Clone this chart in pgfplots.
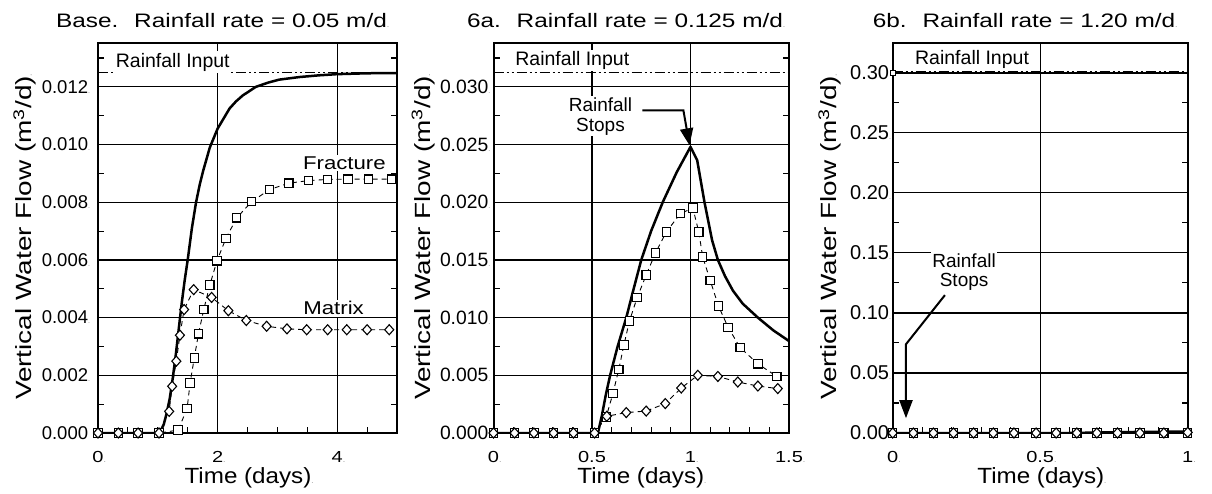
\documentclass[border=0pt]{standalone}
\usepackage{pgfplots}
\pgfplotsset{compat=1.18}
\usepackage{fontspec}
\setmainfont{Liberation Sans}
\newfontfamily\wideT[FakeStretch=1.25]{Liberation Sans}
\newfontfamily\wideX[FakeStretch=1.25]{Liberation Sans}
\newfontfamily\wideL[FakeStretch=1.1]{Liberation Sans}
\newfontfamily\wideY[FakeStretch=1.27]{Liberation Sans}
\newfontfamily\wideA[FakeStretch=1.2]{Liberation Sans}
\usetikzlibrary{arrows.meta}
\newcommand\td{\rlap{\textcolor{black!50}{\fontsize{7}{7}\selectfont .}}}

\pgfplotsset{
  panel/.style={scale only axis, height=390pt, anchor=south west, ymin=0, xmin=0,
    axis line style={line width=2pt},
    grid=major, major grid style={black, line width=1.3pt},
    tick align=inside, xtick pos=left, ytick pos=both, yticklabel pos=left,
    major tick length=0pt, minor tick length=6pt,
    minor tick style={black, line width=1.1pt},
    scaled y ticks=false, scaled x ticks=false,
    xticklabel style={font=\wideX\fontsize{16}{18}\selectfont, inner sep=0pt, anchor=north, yshift=-18pt},
    yticklabel style={inner sep=0pt, anchor=east},
  },
  rain/.style={black, line width=1.4pt, dash pattern=on 10pt off 3pt on 2pt off 3pt on 2pt off 3pt},
  frac/.style={black, line width=0.9pt, dash pattern=on 5pt off 4pt, mark=square*, mark size=4.2pt,
    mark options={solid, fill=white, line width=1.1pt}},
  matr/.style={black, line width=0.9pt, dash pattern=on 5pt off 4pt, mark=diamond*, mark size=5pt,
    mark options={solid, fill=white, line width=1.1pt, xscale=1.2}},
  total/.style={black, line width=2.5pt, line join=round},
}
\tikzset{
  lab/.style={fill=white, inner sep=1.5pt, font=\fontsize{19.5}{21}\selectfont},
  wlab/.style={fill=white, inner sep=1.5pt, font=\wideA\fontsize{18.5}{21}\selectfont},
  stoplab/.style={fill=white, inner sep=1.5pt, align=center, font=\fontsize{19}{19.5}\selectfont},
  arr/.style={black, line width=2pt, -{Triangle[length=17pt,width=13pt]}},
}

\begin{document}
\begin{tikzpicture}
\useasboundingbox (0pt,0pt) rectangle (1212pt,493pt);

% ---------------- Panel 1 ----------------
\begin{axis}[panel, at={(98pt,60pt)}, width=299pt, xmax=5, ymax=0.01352,
  xtick={0,2,4}, xticklabels={0\td,2\td,4\td},
  minor xtick={0.5,1,1.5,2.5,3,3.5,4.5},
  ytick={0,0.002,0.004,0.006,0.008,0.010,0.012},
  yticklabels={0.000,0.002\td,0.004\td,0.006\td,0.008\td,0.010\td,0.012\td},
  minor ytick={0.001,0.003,0.005,0.007,0.009,0.011,0.013},
  yticklabel style={font=\fontsize{18.5}{20}\selectfont, xshift=-9.7pt}]
\addplot[rain] coordinates {(0,0.0125) (5,0.0125)};
\addplot[frac] coordinates {
(0,0) (0.34,0) (0.67,0) (1.02,0) (1.34,0.0001) (1.49,0.00085) (1.54,0.00173)
(1.61,0.0026) (1.68,0.00344) (1.77,0.00429) (1.87,0.00513) (1.99,0.00597)
(2.14,0.00675) (2.32,0.00746) (2.57,0.00802) (2.87,0.00844) (3.19,0.00866)
(3.52,0.00875) (3.84,0.00879) (4.18,0.0088) (4.52,0.0088) (4.91,0.0088)};
\addplot[matr] coordinates {
(0,0) (0.34,0) (0.67,0) (1.02,0) (1.19,0.00075) (1.24,0.00162) (1.31,0.00249)
(1.37,0.00339) (1.44,0.00428) (1.6,0.00497) (1.9,0.0047) (2.18,0.00424)
(2.48,0.0039) (2.82,0.0037) (3.16,0.00361) (3.49,0.00358) (3.84,0.00358)
(4.16,0.00358) (4.5,0.00358) (4.87,0.00358)};
\addplot[total] coordinates {
(0,0) (1.0,0) (1.05,0.00008) (1.1,0.0003) (1.15,0.0007) (1.2,0.0012) (1.25,0.0019)
(1.3,0.0027) (1.35,0.0036) (1.4,0.0045) (1.45,0.0053) (1.5,0.0060) (1.57,0.0071)
(1.64,0.0080) (1.7,0.0086) (1.76,0.0091) (1.87,0.0099) (2.0,0.01055) (2.1,0.0109)
(2.2,0.01125) (2.31,0.0115) (2.42,0.0117) (2.64,0.0120) (2.85,0.01215) (3.03,0.01225)
(3.37,0.01234) (3.7,0.0124) (4.0,0.01244) (4.5,0.01247) (5.0,0.01248)};
\node[lab] at (axis cs:1.25,0.01286) {Rainfall Input};
\node[wlab] at (axis cs:4.12,0.00936) {Fracture};
\node[wlab] at (axis cs:3.94,0.00432) {Matrix};
\end{axis}

% ---------------- Panel 2 ----------------
\begin{axis}[panel, at={(493.5pt,60pt)}, width=295.5pt, xmax=1.5, ymax=0.0338,
  xtick={0,0.5,1,1.5}, xticklabels={0\td,0.5\td,1\td,1.5\td},
  minor xtick={0.1,0.2,0.3,0.4,0.6,0.7,0.8,0.9,1.1,1.2,1.3,1.4},
  ytick={0,0.005,0.010,0.015,0.020,0.025,0.030},
  yticklabels={0.000,0.005\td,0.010\td,0.015\td,0.020\td,0.025\td,0.030\td},
  minor ytick={0.0025,0.0075,0.0125,0.0175,0.0225,0.0275,0.0325},
  yticklabel style={font=\fontsize{19.3}{20}\selectfont, xshift=-5pt}]
\addplot[rain] coordinates {(0,0.03125) (1.5,0.03125)};
\addplot[frac] coordinates {
(0,0) (0.107,0) (0.205,0) (0.305,0) (0.406,0) (0.513,0) (0.572,0.00139)
(0.606,0.00341) (0.636,0.00552) (0.662,0.00763) (0.69,0.0097) (0.729,0.01173)
(0.775,0.01369) (0.822,0.0156) (0.877,0.01742) (0.948,0.01901) (1.012,0.0195)
(1.042,0.01742) (1.062,0.01525) (1.1,0.01323) (1.142,0.011) (1.191,0.00916)
(1.252,0.0074) (1.342,0.006) (1.438,0.0049)};
\addplot[matr] coordinates {
(0,0) (0.107,0) (0.205,0) (0.305,0) (0.406,0) (0.513,0) (0.575,0.00145)
(0.674,0.00177) (0.775,0.0019) (0.872,0.00255) (0.953,0.0039) (1.037,0.005)
(1.139,0.0049) (1.24,0.00442) (1.342,0.00407) (1.443,0.00385)};
\addplot[total] coordinates {
(0,0) (0.53,0) (0.55,0.0015) (0.57,0.0033) (0.592,0.005) (0.63,0.0075) (0.674,0.010)
(0.71,0.0124) (0.75,0.015) (0.8,0.0175) (0.859,0.020) (0.93,0.0226) (1.0,0.0248)
(1.034,0.02363) (1.071,0.020) (1.11,0.01668) (1.139,0.015) (1.175,0.0136)
(1.215,0.01235) (1.265,0.01121) (1.342,0.010) (1.42,0.0089) (1.5,0.00797)};
\node[lab] at (axis cs:0.4,0.0323) {Rainfall Input};
\node[stoplab] at (axis cs:0.543,0.02744) {Rainfall\\Stops};
\draw[arr] (axis cs:0.756,0.02796) -- (axis cs:0.964,0.02796) -- (axis cs:0.995,0.02493);
\end{axis}

% ---------------- Panel 3 ----------------
\begin{axis}[panel, at={(892.7pt,60pt)}, width=295pt, xmax=1, ymax=0.3247,
  xtick={0,0.5,1}, xticklabels={0\td,0.5\td,1\td},
  minor xtick={0.1,0.2,0.3,0.4,0.6,0.7,0.8,0.9},
  ytick={0,0.05,0.10,0.15,0.20,0.25,0.30},
  yticklabels={0.00,0.05\td,0.10\td,0.15\td,0.20\td,0.25\td,0.30},
  minor ytick={0.025,0.075,0.125,0.175,0.225,0.275},
  yticklabel style={font=\fontsize{20}{21}\selectfont, xshift=-3.4pt}]
\addplot[rain] coordinates {(0,0.301) (1,0.301)};
\addplot[black, line width=1.5pt] coordinates {(0,0.2995) (1,0.2995)};
\addplot[only marks, mark=square*, mark size=2.5pt, mark options={fill=white, line width=0.8pt}] coordinates {(0,0.3)};
\addplot[frac] coordinates {
(0,0) (0.07,0) (0.138,0) (0.206,0) (0.274,0) (0.341,0) (0.411,0) (0.486,0)
(0.554,0) (0.624,0) (0.692,0) (0.762,0) (0.838,0) (0.919,0) (1.0,0)};
\addplot[matr] coordinates {
(0,0) (0.07,0) (0.138,0) (0.206,0) (0.274,0) (0.341,0) (0.411,0) (0.486,0)
(0.554,0) (0.624,0) (0.692,0) (0.762,0) (0.838,0) (0.919,0) (1.0,0.0005)};
\addplot[total] coordinates {(0,0) (0.6,0) (0.8,0.0008) (1.0,0.0012)};
\node[lab] at (axis cs:0.269,0.3106) {Rainfall Input};
\node[stoplab] at (axis cs:0.242,0.1338) {Rainfall\\Stops};
\draw[black, line width=2pt, -{Triangle[length=18pt,width=13pt]}] (axis cs:0.177,0.1148) -- (axis cs:0.045,0.0739) -- (axis cs:0.045,0.0123);
\end{axis}

% ---------------- outside labels ----------------
\node[anchor=base, font=\wideT\fontsize{19.5}{22}\selectfont] at (221.5pt,465.7pt) {Base.~ Rainfall rate = 0.05 m/d\td};
\node[anchor=base, font=\wideT\fontsize{19.5}{22}\selectfont] at (625pt,465.7pt) {6a.~ Rainfall rate = 0.125 m/d\td};
\node[anchor=base, font=\wideT\fontsize{19.5}{22}\selectfont] at (1024pt,465.7pt) {6b.~ Rainfall rate = 1.20 m/d\td};

\node[anchor=base, font=\wideL\fontsize{22}{24}\selectfont] at (248pt,9.7pt) {Time (days)\td};
\node[anchor=base, font=\wideL\fontsize{22}{24}\selectfont] at (640.8pt,9.7pt) {Time (days)\td};
\node[anchor=base, font=\wideL\fontsize{22}{24}\selectfont] at (1040.8pt,9.7pt) {Time (days)\td};

\node[rotate=90, anchor=base, font=\wideY\fontsize{22}{24}\selectfont] at (31.7pt,255pt) {Vertical Water Flow (m\textsuperscript{3}/d)\td};
\node[rotate=90, anchor=base, font=\wideY\fontsize{22}{24}\selectfont] at (430pt,255pt) {Vertical Water Flow (m\textsuperscript{3}/d)\td};
\node[rotate=90, anchor=base, font=\wideY\fontsize{22}{24}\selectfont] at (836.7pt,255pt) {Vertical Water Flow (m\textsuperscript{3}/d)\td};
\end{tikzpicture}
\end{document}
